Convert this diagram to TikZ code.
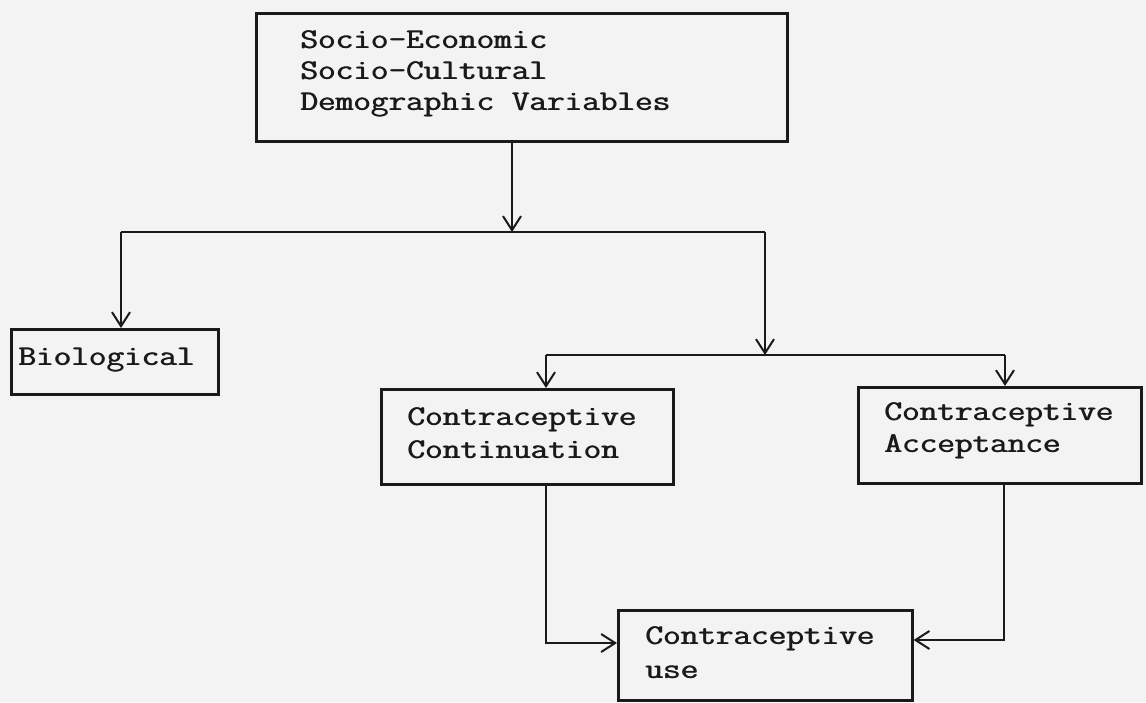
\documentclass[tikz,border=0pt]{standalone}
\usetikzlibrary{arrows.meta}
\definecolor{ink}{HTML}{1A1A1A}
\definecolor{paper}{HTML}{F3F3F3}
\newcommand\wideTT[1]{\scalebox{1.2}[1]{\rlap{#1}\kern0.7pt#1}}
\tikzset{
  box/.style={draw=ink, line width=2.6pt, inner sep=0, anchor=north west},
  txt/.style={font=\ttfamily\fontsize{28.5pt}{31pt}\selectfont, text=ink, anchor=base west, inner sep=0},
  conn/.style={draw=ink, line width=2.2pt},
  arr/.style={conn, -{Straight Barb[length=14pt,width=18pt,line width=2pt]}}
}
\begin{document}
\begin{tikzpicture}[x=1pt,y=-1pt]
\fill[paper] (0,0) rectangle (1146,702);
\useasboundingbox (0,0) rectangle (1146,702);
% boxes
\node[box, minimum width=531, minimum height=128] (top) at (255,12) {};
\node[box, minimum width=207, minimum height=65] (bio) at (10,328) {};
\node[box, minimum width=292, minimum height=95] (cont) at (380,388) {};
\node[box, minimum width=283, minimum height=96] (acc) at (857,386) {};
\node[box, minimum width=294, minimum height=90] (use) at (617,609) {};
% texts
\node[txt] (t1) at (300,48) {\wideTT{Socio-Economic}};
\node[txt] (t2) at (300,79) {\wideTT{Socio-Cultural}};
\node[txt] (t3) at (300,110) {\wideTT{Demographic Variables}};
\node[txt] (b1) at (18,365) {\wideTT{Biological}};
\node[txt] (c1) at (407,425) {\wideTT{Contraceptive}};
\node[txt] (c2) at (407,458) {\wideTT{Continuation}};
\node[txt] (a1) at (884,420) {\wideTT{Contraceptive}};
\node[txt] (a2) at (884,452) {\wideTT{Acceptance}};
\node[txt] (u1t) at (645,644) {\wideTT{Contraceptive}};
\node[txt] (u2t) at (645,678) {\wideTT{use}};
% junctions
\coordinate (j1) at (512,232);
\coordinate (bl) at (121,232);
\coordinate (br) at (765,232);
\coordinate (j2) at (765,355);
\coordinate (cl) at (546,355);
\coordinate (cr) at (1005,355);
\coordinate (ul) at (546,643);
\coordinate (ur) at (1004,640);
% connectors
\draw[arr] (j1 |- top.south) -- (j1);
\draw[conn] (bl) -- (br);
\draw[arr] (bl) -- (bl |- bio.north);
\draw[arr] (br) -- (j2);
\draw[conn] (cl) -- (cr);
\draw[arr] (cl) -- (cl |- cont.north);
\draw[arr] (cr) -- (cr |- acc.north);
\draw[arr] (ul |- cont.south) -- (ul) -- (ul -| use.west);
\draw[arr] (ur |- acc.south) -- (ur) -- (ur -| use.east);
\end{tikzpicture}
\end{document}
